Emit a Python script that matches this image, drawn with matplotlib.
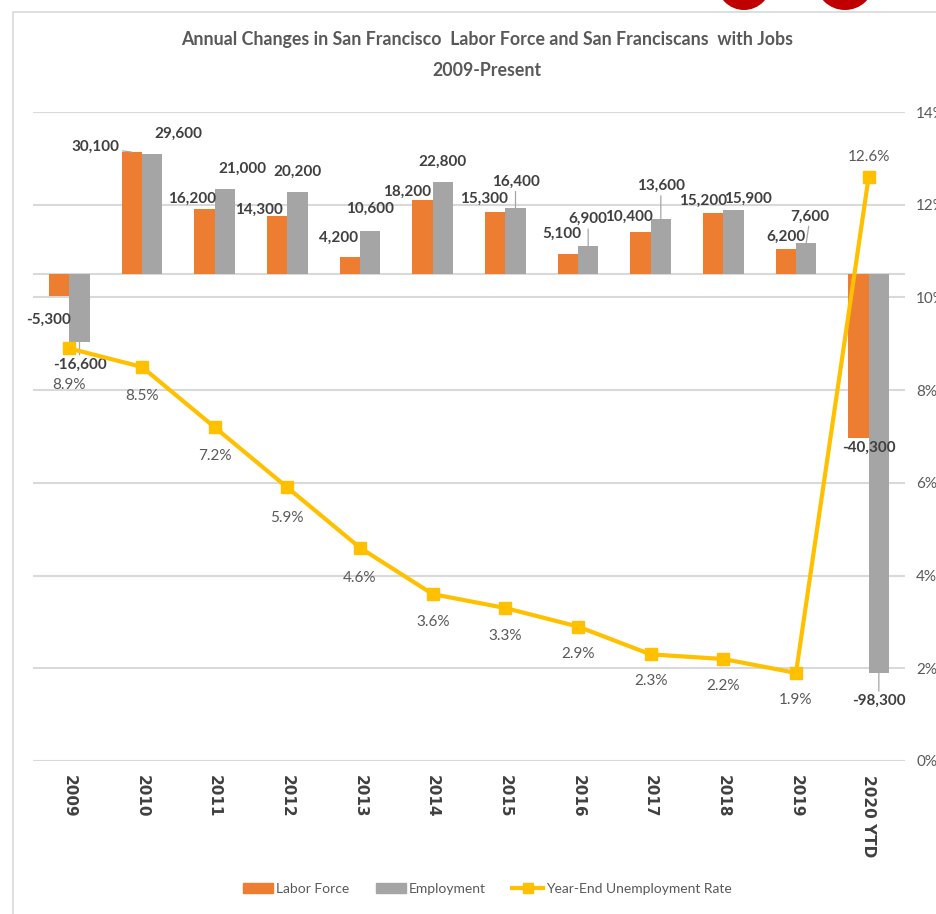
import numpy as np
import matplotlib.pyplot as plt
from matplotlib.patches import Rectangle, Ellipse, Patch
from matplotlib.lines import Line2D

years = ['2009', '2010', '2011', '2012', '2013', '2014', '2015', '2016',
         '2017', '2018', '2019', '2020 YTD']
labor_force = [-5300, 30100, 16200, 14300, 4200, 18200, 15300, 5100, 10400, 15200, 6200, -40300]
employment = [-16600, 29600, 21000, 20200, 10600, 22800, 16400, 6900, 13600, 15900, 7600, -98300]
unemp_rate = [8.9, 8.5, 7.2, 5.9, 4.6, 3.6, 3.3, 2.9, 2.3, 2.2, 1.9, 12.6]

# where excel put the data labels (pixel offsets from the bar end / marker)
lf_off = [(-11, -24), (-36, 5), (-12, 10), (-18, 6), (-11, 19), (-15, 9),
          (-11, 13), (-6, 20), (-12, 15), (-10, 12), (0, 12), (10, -10)]
lf_lead = [False, True] + [False] * 10
emp_off = [(0, -23), (26, 20), (18, 20), (0, 21), (0, 22), (0, 20),
           (0, 26), (0, 27), (0, 33), (14, 11), (4, 27), (0, -28)]
emp_lead = [True, False, False, False, False, False, True, True, True, False, True, True]
rate_off = [-37, -29, -29, -31, -30, -28, -28, -27, -27, -27, -27, 20]

ORANGE = '#ED7D31'
GRAY = '#A5A5A5'
YELLOW = '#FFC000'
TXT = '#404040'
TXT2 = '#595959'
GRID = '#D9D9D9'
FONT = ['Lato', 'DejaVu Sans']

W, H = 937, 914
fig = plt.figure(figsize=(W / 100, H / 100), dpi=100)

# chart border and the red shapes cut off at the top
fig.patches.append(Rectangle((13 / W, -0.1), 1.0, 1 - 12 / H + 0.1, transform=fig.transFigure,
                             fill=False, edgecolor=GRID, lw=1.2))
for cx, w in [(744, 54), (845, 57)]:
    fig.patches.append(Ellipse((cx / W, 1 + 17 / H), w / W, 54 / H, transform=fig.transFigure,
                               facecolor='#C00000', edgecolor='none'))

ax = fig.add_axes([33 / W, 1 - 761 / H, 872 / W, 649 / H])
ax2 = ax.twinx()

x = np.arange(len(years))
bw = 0.28
lo, hi = -120000, 40000
ax.set_xlim(-0.5, len(years) - 0.5)
ax.set_ylim(lo, hi)
ax.set_yticks(np.linspace(lo, hi, 8))
ax.yaxis.grid(True, color=GRID, lw=1.5)
ax.set_axisbelow(True)
ax.axhline(0, color=GRID, lw=1.5, zorder=1)
ax.tick_params(axis='y', length=0, labelleft=False)

ax.bar(x - bw / 2, labor_force, bw, color=ORANGE, zorder=2)
ax.bar(x + bw / 2, employment, bw, color=GRAY, zorder=2)

ax.set_xticks(x)
ax.set_xticklabels(years, rotation=-90, fontsize=11, fontweight='bold', color=TXT,
                   family='DejaVu Sans', va='top')
ax.tick_params(axis='x', length=0, pad=10)

for s in ax.spines.values():
    s.set_visible(False)
for s in ax2.spines.values():
    s.set_visible(False)


def bar_label(xv, v, off, lead):
    ap = None
    if lead:
        ap = dict(arrowstyle='-', color='#A6A6A6', lw=0.9, shrinkA=0, shrinkB=0)
    ax.annotate(f'{v:,}', (xv, v), xytext=off, textcoords='offset pixels',
                ha='center', va='center', fontsize=11, fontweight='bold',
                color=TXT, family=FONT, arrowprops=ap, zorder=5)


for i in range(len(years)):
    bar_label(x[i] - bw / 2, labor_force[i], lf_off[i], lf_lead[i])
    bar_label(x[i] + bw / 2, employment[i], emp_off[i], emp_lead[i])

ax2.plot(x, unemp_rate, color=YELLOW, lw=3, marker='s', ms=8, zorder=4)
ax2.set_ylim(0, 14)
ax2.set_yticks(range(0, 15, 2))
ax2.set_yticklabels([f'{t}%' for t in range(0, 15, 2)], fontsize=11, color=TXT2, family=FONT)
ax2.tick_params(axis='y', length=0, pad=8)
for i, r in enumerate(unemp_rate):
    ax2.annotate(f'{r}%', (x[i], r), xytext=(0, rate_off[i]), textcoords='offset pixels',
                 ha='center', va='center', fontsize=11, color=TXT2, family=FONT)

fig.text(487 / W, 1 - 40 / H, 'Annual Changes in San Francisco  Labor Force and San Franciscans  with Jobs',
         ha='center', va='center', fontsize=12.8, fontweight='bold', color=TXT2, family=FONT)
fig.text(487 / W, 1 - 70 / H, '2009-Present', ha='center', va='center', fontsize=12.8,
         fontweight='bold', color=TXT2, family=FONT)

handles = [Patch(color=ORANGE), Patch(color=GRAY),
           Line2D([], [], color=YELLOW, lw=3, marker='s', ms=7)]
fig.legend(handles, ['Labor Force', 'Employment', 'Year-End Unemployment Rate'],
           loc='center', bbox_to_anchor=(487 / W, 1 - 889 / H), ncol=3, frameon=False,
           prop={'family': FONT, 'size': 10}, labelcolor=TXT2, handlelength=2.2,
           handletextpad=0.2, columnspacing=1.9)

fig.savefig('out.png', dpi=100)
